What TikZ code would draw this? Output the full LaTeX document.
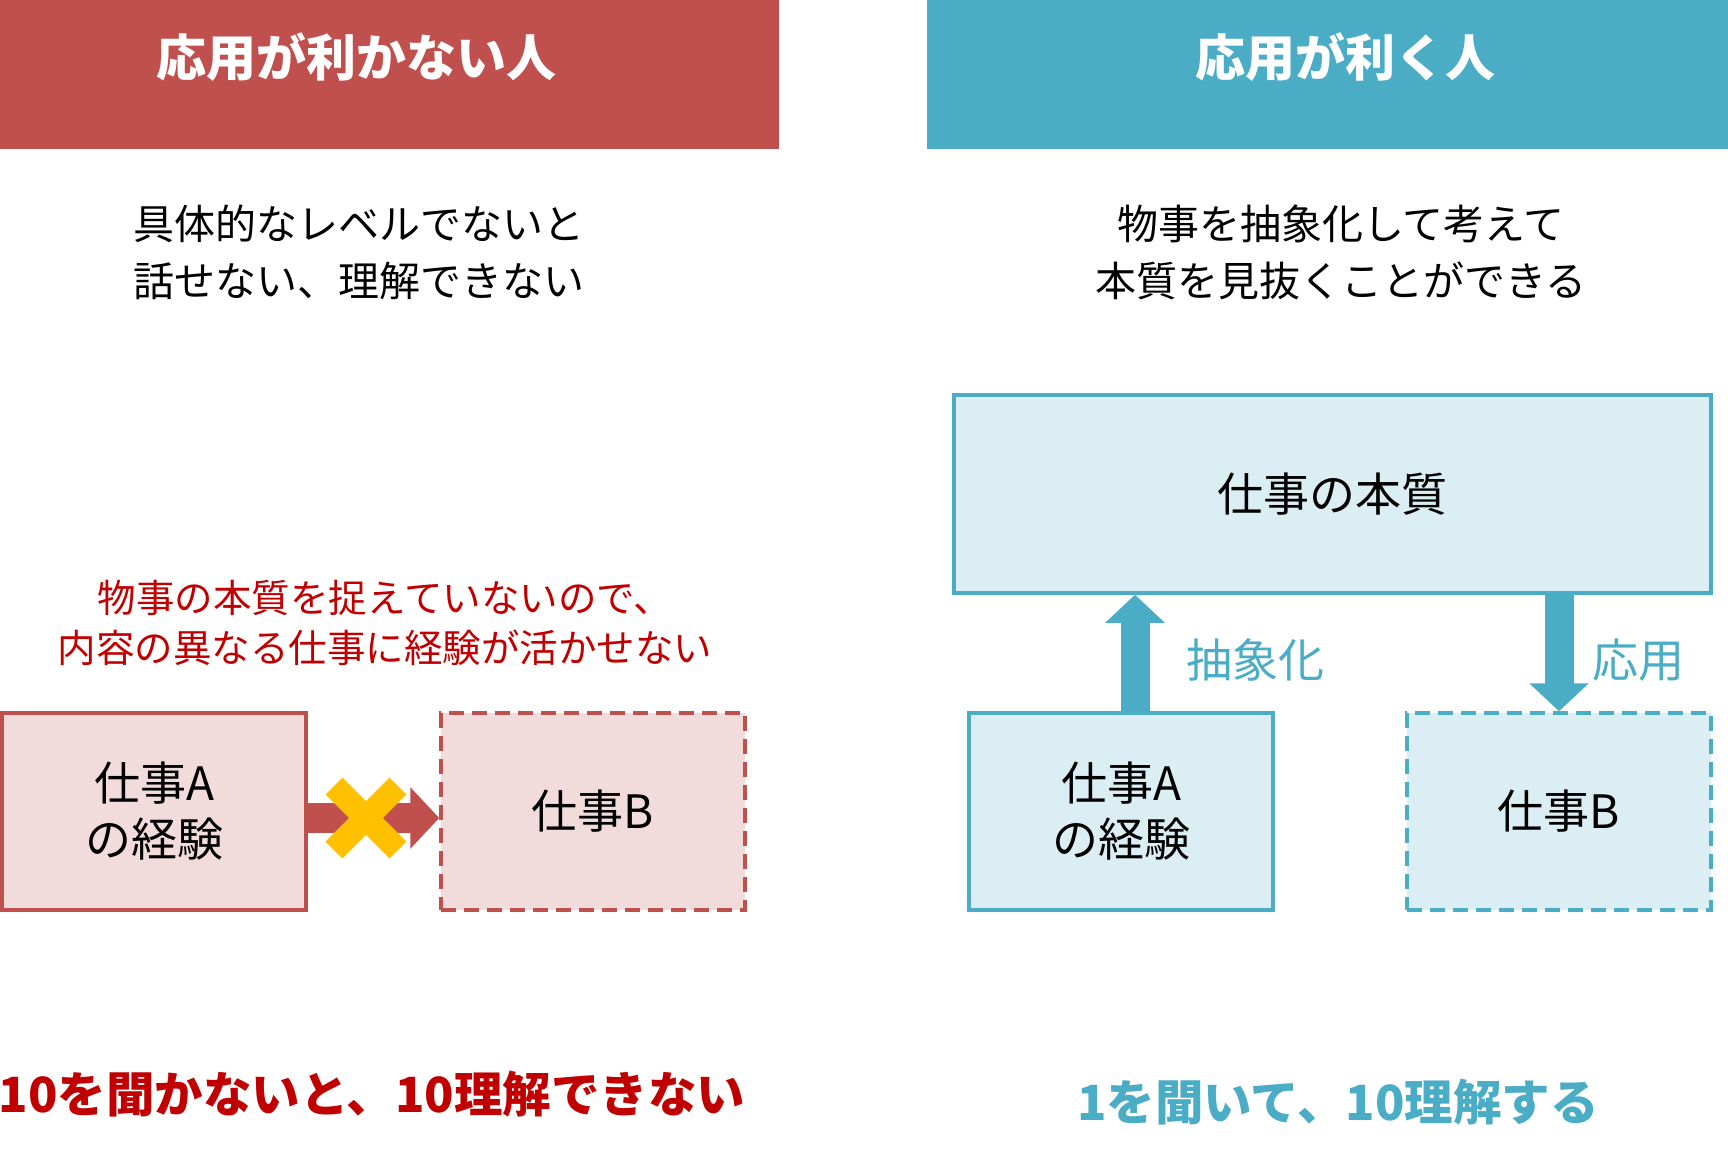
\documentclass[tikz,border=0pt]{standalone}
\usepackage{fontspec}
\setmainfont{Noto Sans CJK JP}
\usetikzlibrary{arrows.meta}
\definecolor{hred}{HTML}{C0504D}
\definecolor{hblue}{HTML}{4BACC6}
\definecolor{tred}{HTML}{C00000}
\definecolor{pinkfill}{HTML}{F2DCDB}
\definecolor{bluefill}{HTML}{DAEEF3}
\definecolor{xyellow}{HTML}{FFC000}
\begin{document}
\begin{tikzpicture}[x=1pt,y=-1pt,
  titletext/.style={text=white,font=\fontsize{50}{58}\selectfont\bfseries},
  subtext/.style={align=center,font=\fontsize{41}{57}\selectfont},
  redtext/.style={align=center,text=tred,font=\fontsize{38.5}{50}\selectfont},
  boxbase/.style={draw,line width=3.5pt,inner sep=0pt,align=center,
    minimum height=197pt,font=\fontsize{46}{56}\selectfont},
  pinkbox/.style={boxbase,draw=hred,fill=pinkfill},
  bluebox/.style={boxbase,draw=hblue,fill=bluefill},
  dashbox/.style={dash pattern=on 15pt off 8pt},
  redarrow/.style={draw=hred,line width=30pt,-{Triangle[width=60pt,length=29pt]},color=hred},
  bluearrow/.style={line width=29pt,-{Triangle[width=58pt,length=28pt]},color=hblue},
  xmark/.style={line width=24pt,color=xyellow},
  bluelabel/.style={text=hblue,font=\fontsize{46}{56}\selectfont},
  bottomtext/.style={font=\fontsize{48.5}{56}\selectfont\bfseries}]
\useasboundingbox (0,0) rectangle (1728,1170);
% headers
\fill[hred] (0,0) rectangle (779,149);
\fill[hblue] (927,0) rectangle (1728,149);
\node[titletext] (tL) at (356,57) {応用が利かない人};
\node[titletext] (tR) at (1345,57) {応用が利く人};
% subtitles
\node[subtext] (sL) at (359,252) {具体的なレベルでないと\\話せない、理解できない};
\node[subtext] (sR) at (1341,252) {物事を抽象化して考えて\\本質を見抜くことができる};
% left side
\node[redtext] (note) at (385,623) {物事の本質を捉えていないので、\\内容の異なる仕事に経験が活かせない};
\node[pinkbox,minimum width=304pt] (lA) at (154,811.5) {仕事A\\の経験};
\node[pinkbox,dashbox,minimum width=304pt] (lB) at (593,811.5) {仕事B};
\draw[redarrow] ([yshift=-6.5pt]lA.east) -- ([yshift=-6.5pt]lB.west);
\coordinate (xc) at (366,818);
\draw[xmark] ([shift={(-32,-32)}]xc) -- ([shift={(32,32)}]xc);
\draw[xmark] ([shift={(-32,32)}]xc) -- ([shift={(32,-32)}]xc);
% right side
\node[bluebox,minimum width=757pt,minimum height=198pt] (top) at (1332.5,494) {仕事の本質};
\node[bluebox,minimum width=304pt] (rA) at (1121,811.5) {仕事A\\の経験};
\node[bluebox,dashbox,minimum width=304pt] (rB) at (1559,811.5) {仕事B};
\draw[bluearrow] ([xshift=14pt]rA.north) -- ([xshift=14pt]rA.north |- top.south);
\draw[bluearrow] (rB.north |- top.south) -- (rB.north);
\node[bluelabel] (abs) at (1255,660) {抽象化};
\node[bluelabel] (app) at (1638,660) {応用};
% bottom
\node[bottomtext,text=tred] (bL) at (372,1094) {10を聞かないと、10理解できない};
\node[bottomtext,text=hblue] (bR) at (1338,1102) {1を聞いて、10理解する};
\end{tikzpicture}
\end{document}
